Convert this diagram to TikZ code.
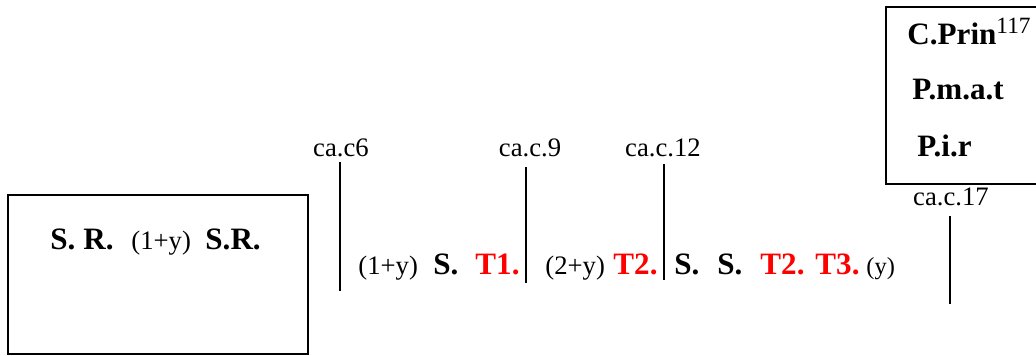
\documentclass[tikz,border=0pt]{standalone}
\usepackage{fontspec}
\setmainfont{Liberation Serif}
\usepackage{xcolor}
\usetikzlibrary{positioning}
\definecolor{MarkRed}{HTML}{FF0000}
\tikzset{
  boldtxt/.style={font=\fontsize{14}{16}\selectfont\bfseries,inner sep=0pt,anchor=base west},
  redtxt/.style={boldtxt,text=MarkRed},
  plaintxt/.style={font=\fontsize{12}{14}\selectfont,inner sep=0pt,anchor=base west},
  smalltxt/.style={font=\fontsize{11}{13}\selectfont,inner sep=0pt,anchor=base west},
  caplabel/.style={font=\fontsize{12}{14}\selectfont,inner sep=0pt,anchor=base},
  divider/.style={line width=0.9pt,draw=black},
  framebox/.style={draw=black,line width=1pt,inner sep=0pt}
}
\begin{document}
\begin{tikzpicture}[x=0.45pt,y=-0.45pt]
\clip (0,0) rectangle (1036,356);
% left frame
\node[framebox,minimum width=135pt,minimum height=71.5pt] (srbox) at (158,274.5) {};
\node[boldtxt] (sr1) at (50,249) {S. R.};
\node[plaintxt] (sry) at (131,249) {(1+y)};
\node[boldtxt] (sr2) at (205,249) {S.R.};
% right frame, cut off at the page edge
\node[framebox,minimum width=72pt,minimum height=79.6pt] (prbox) at (966,95.5) {};
\node[boldtxt] (cprin) at (907,45) {C.Prin\textsuperscript{\fontsize{10.5}{12}\selectfont\mdseries 117}};
\node[boldtxt] (pmat) at (912,100) {P.m.a.t};
\node[boldtxt] (pir) at (917,157) {P.i.r};
% dividers and their labels
\node[caplabel] (c6) at (341,157) {ca.c6};
\node[caplabel] (c9) at (530,157) {ca.c.9};
\node[caplabel] (c12) at (663,157) {ca.c.12};
\node[caplabel] (c17) at (951,206) {ca.c.17};
\coordinate (c6top) at (340,162);  \coordinate (c6bot) at (340,291);
\coordinate (c9top) at (526,167);  \coordinate (c9bot) at (526,283);
\coordinate (c12top) at (664,164); \coordinate (c12bot) at (664,280);
\coordinate (c17top) at (950,216); \coordinate (c17bot) at (950,304);
\draw[divider] (c6top) -- (c6bot);
\draw[divider] (c9top) -- (c9bot);
\draw[divider] (c12top) -- (c12bot);
\draw[divider] (c17top) -- (c17bot);
% text row
\node[plaintxt] (y1) at (358,274) {(1+y)};
\node[boldtxt] (s1) at (433,274) {S.};
\node[redtxt] (t1) at (475,274) {T1.};
\node[plaintxt] (y2) at (545,274) {(2+y)};
\node[redtxt] (t2) at (613,274) {T2.};
\node[boldtxt] (s2) at (674,274) {S.};
\node[boldtxt] (s3) at (717,274) {S.};
\node[redtxt] (t2b) at (760,274) {T2.};
\node[redtxt] (t3) at (815,274) {T3.};
\node[smalltxt] (y3) at (866,274) {(y)};
\end{tikzpicture}
\end{document}
